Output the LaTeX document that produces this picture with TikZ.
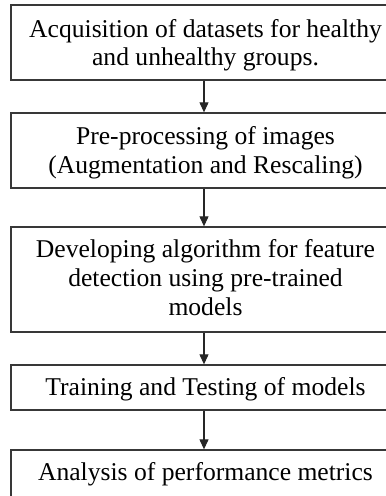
\documentclass[tikz,border=0pt]{standalone}
\usepackage{fontspec}
\setmainfont{Liberation Serif}
\usetikzlibrary{arrows.meta}
\begin{document}
\begin{tikzpicture}[x=1pt,y=-1pt,
  stepbox/.style={draw=black!78, line width=1.3pt, minimum width=386pt, inner sep=0pt},
  steptext/.style={inner sep=0pt, align=center, font=\fontsize{25.6}{28.8}\selectfont},
  arr/.style={draw=black!85, line width=1.1pt, -{Triangle[width=9pt,length=10pt]}}]
\clip (0,0) rectangle (386,496);
\useasboundingbox (0,0) rectangle (386,496);
\node[stepbox, minimum height=75pt] (b1) at (204,42.5) {};
\node[stepbox, minimum height=75pt] (b2) at (204,150.5) {};
\node[stepbox, minimum height=105pt] (b3) at (204,279.5) {};
\node[stepbox, minimum height=45pt] (b4) at (204,387.5) {};
\node[stepbox, minimum height=60pt] (b5) at (204,480) {};
\node[steptext] (t1) at (205.5,45.2) {Acquisition of datasets for healthy\\and unhealthy groups.};
\node[steptext] (t2) at (205.5,152.5) {Pre-processing of images\\(Augmentation and Rescaling)};
\node[steptext] (t3) at (205.5,277.5) {Developing algorithm for feature\\detection using pre-trained\\models};
\node[steptext] (t4) at (205.5,389.2) {Training and Testing of models};
\node[steptext] (t5) at (205.5,474.2) {Analysis of performance metrics};
\draw[arr] (b1) -- (b2);
\draw[arr] (b2) -- (b3);
\draw[arr] (b3) -- (b4);
\draw[arr] (b4) -- (b5);
\end{tikzpicture}
\end{document}
